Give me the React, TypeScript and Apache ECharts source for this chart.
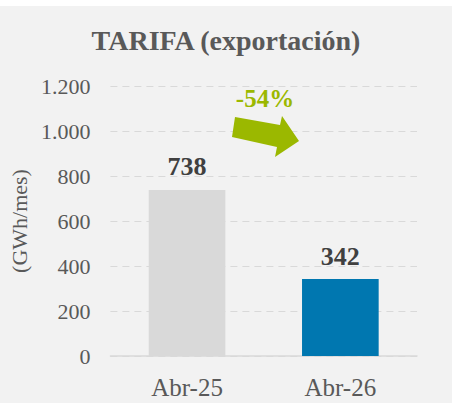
import React, { useEffect, useRef } from "react";
import * as echarts from "echarts";

const categories = ["Abr-25", "Abr-26"];
const values = [738, 342];
const barColors = ["#d9d9d9", "#0077b0"];
const yTicks = [0, 200, 400, 600, 800, 1000, 1200];

const FONT = "Liberation Serif";

function fmtThousands(v: number): string {
  return String(v).replace(/\B(?=(\d{3})+(?!\d))/g, ".");
}

export default function App() {
  const ref = useRef<HTMLDivElement>(null);
  useEffect(() => {
    if (!ref.current) return;
    const chart = echarts.init(ref.current, null, { renderer: "svg" });
    const change = Math.round(((values[1] - values[0]) / values[0]) * 100);
    chart.setOption({
      animation: false,
      backgroundColor: "#ffffff",
      textStyle: { fontFamily: FONT },
      title: {
        text: "TARIFA (exportación)",
        left: "center",
        top: 21,
        textStyle: { fontFamily: FONT, fontSize: 28, fontWeight: "bold", color: "#595959" },
      },
      grid: { left: 107, right: 35, top: 86, bottom: 47 },
      xAxis: {
        type: "category",
        data: categories,
        axisLine: { show: true, lineStyle: { color: "#d9d9d9", width: 1.5 } },
        axisTick: { show: false },
        axisLabel: { color: "#595959", fontSize: 25, fontFamily: FONT, margin: 19 },
      },
      yAxis: {
        type: "value",
        min: yTicks[0],
        max: yTicks[yTicks.length - 1],
        interval: 200,
        name: "(GWh/mes)",
        nameLocation: "middle",
        nameRotate: 90,
        nameGap: 78,
        nameTextStyle: { color: "#595959", fontSize: 22, fontFamily: FONT },
        axisLine: { show: false },
        axisTick: { show: false },
        axisLabel: {
          color: "#595959",
          fontSize: 22,
          fontFamily: FONT,
          margin: 20,
          formatter: (v: number) => fmtThousands(v),
        },
        splitLine: { show: true, lineStyle: { color: "#d9d9d9", type: [7, 5], width: 1.2 } },
      },
      graphic: [
        {
          type: "rect",
          z: -10,
          silent: true,
          shape: { x: 0, y: 6, width: 452, height: 397 },
          style: { fill: "#f2f2f2" },
        },
        {
          type: "polygon",
          z: 10,
          shape: {
            points: [
              [235, 117],
              [280, 125],
              [282, 116],
              [299, 141],
              [275, 157],
              [277, 147],
              [232, 137],
            ],
          },
          style: { fill: "#9bb800" },
        },
        {
          type: "text",
          z: 10,
          x: 265,
          y: 98,
          style: {
            text: change + "%",
            fill: "#9bb800",
            fontSize: 25,
            fontWeight: "bold",
            fontFamily: FONT,
            align: "center",
            verticalAlign: "middle",
          },
        },
      ],
      series: [
        {
          type: "bar",
          barWidth: "50%",
          data: values.map((v, i) => ({ value: v, itemStyle: { color: barColors[i] } })),
          label: {
            show: true,
            position: "top",
            distance: 10,
            color: "#404040",
            fontSize: 26,
            fontWeight: "bold",
            fontFamily: FONT,
          },
        },
      ],
    });
    return () => chart.dispose();
  }, []);
  return (
    <div
      ref={ref}
      style={{ position: "fixed", left: 0, top: 0, width: 452, height: 403 }}
    />
  );
}
